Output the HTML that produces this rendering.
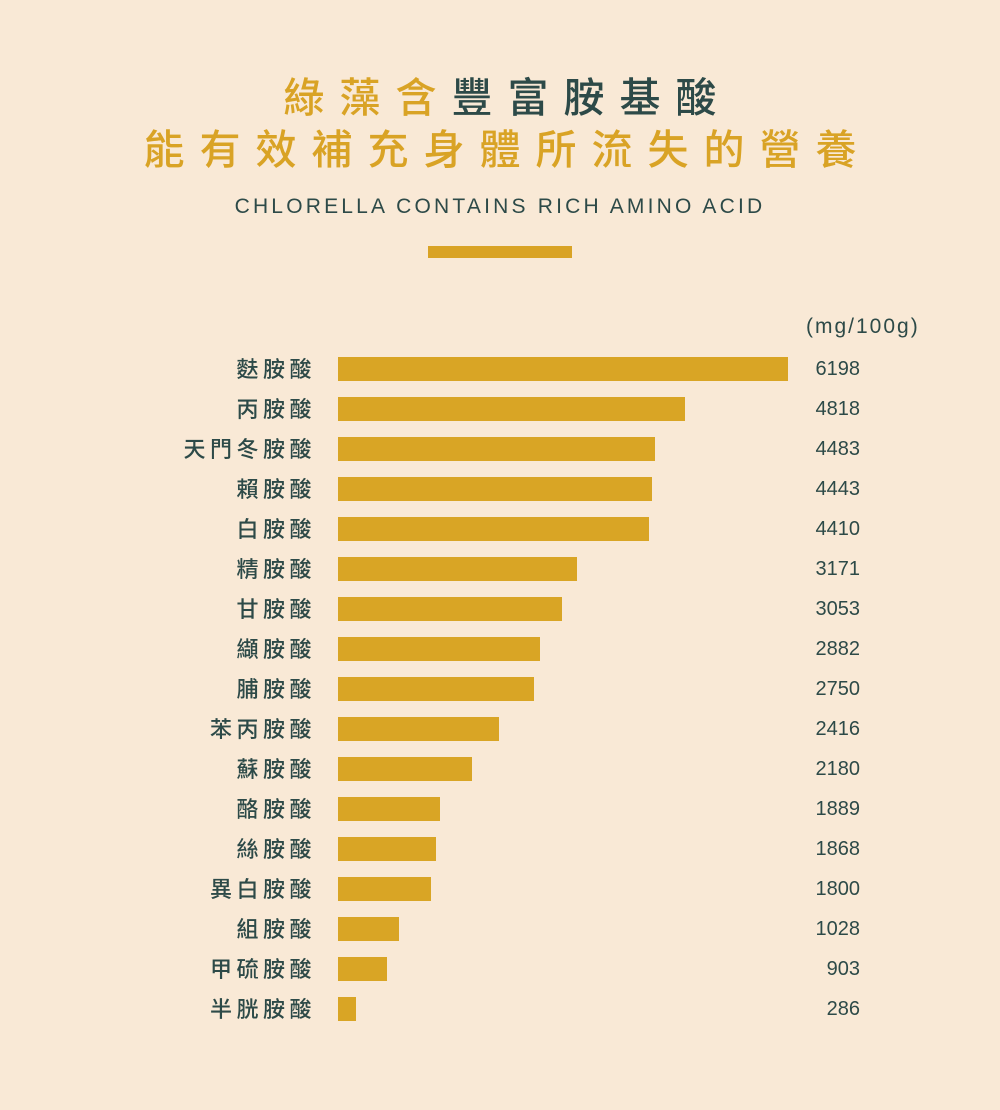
<!DOCTYPE html>
<html><head><meta charset="utf-8"><style>
body{margin:0;width:1000px;height:1110px;background:#f9e9d6;position:relative;overflow:hidden;font-family:"Liberation Sans","Noto Sans CJK TC",sans-serif;color:#2d4a48}
.t{position:absolute;left:0;width:1015px;text-align:center;font-size:41px;font-weight:500;letter-spacing:15px;line-height:1;font-family:"Noto Sans CJK TC",sans-serif}
.y{color:#d9a325}
.sub{position:absolute;left:0;width:1000px;top:195px;text-align:center;font-size:21px;letter-spacing:3.2px}
.div{position:absolute;left:428px;top:246px;width:144px;height:12px;background:#d9a325}
.row{position:absolute;left:0;width:1000px;height:24px}
.lab{position:absolute;right:684px;top:-6px;font-size:22px;letter-spacing:4.5px;font-family:"Noto Sans CJK TC",sans-serif;font-weight:500;white-space:nowrap;line-height:34px}
.bar{position:absolute;left:338px;top:0;height:24px;background:#d9a525}
.val{position:absolute;right:140px;top:0;font-size:20px;line-height:24px}
.unit{position:absolute;left:806px;top:315px;font-size:21px;letter-spacing:2px}
</style></head><body>
<div class="t" style="top:74px"><span class="y">綠藻含</span>豐富胺基酸</div>
<div class="t y" style="top:126px">能有效補充身體所流失的營養</div>
<div class="sub">CHLORELLA CONTAINS RICH AMINO ACID</div>
<div class="div"></div>
<div class="unit">(mg/100g)</div>
<div id="c"></div>
<script>
var d=[["麩胺酸",6198,788],["丙胺酸",4818,685],["天門冬胺酸",4483,655],["賴胺酸",4443,652],["白胺酸",4410,649],["精胺酸",3171,577],["甘胺酸",3053,562],["纈胺酸",2882,540],["脯胺酸",2750,534],["苯丙胺酸",2416,499],["蘇胺酸",2180,472],["酪胺酸",1889,440],["絲胺酸",1868,436],["異白胺酸",1800,431],["組胺酸",1028,399],["甲硫胺酸",903,387],["半胱胺酸",286,356]];
var h="";d.forEach(function(r,i){h+='<div class="row" style="top:'+(357+40*i)+'px"><span class="lab">'+r[0]+'</span><div class="bar" style="width:'+(r[2]-338)+'px"></div><span class="val">'+r[1]+'</span></div>';});
document.getElementById("c").innerHTML=h;
</script>
</body></html>
